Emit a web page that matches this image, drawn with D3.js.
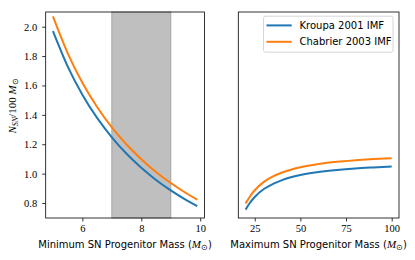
<!DOCTYPE html>
<html>
<head>
<meta charset="utf-8">
<script src="https://cdn.jsdelivr.net/npm/d3@7"></script>
<style>
  body { margin: 0; background: #fff; }
  text { fill: #000; }
</style>
</head>
<body>
<svg id="chart" width="415" height="260"></svg>
<script>
// data
const seriesNames = ['Kroupa 2001 IMF', 'Chabrier 2003 IMF']
const seriesColors = ['#1f77b4', '#ff7f0e']

const minMass = [5, 5.5, 6, 6.5, 7, 7.5, 8, 8.5, 9, 9.5, 9.9]
const kroupaMin = [1.97, 1.730, 1.537, 1.379, 1.247, 1.135, 1.040, 0.957, 0.886, 0.823, 0.778]
const chabrierMin = [2.07, 1.820, 1.618, 1.453, 1.314, 1.198, 1.098, 1.011, 0.936, 0.870, 0.823]

const maxMass = [20, 22, 25, 30, 35, 40, 50, 60, 70, 80, 90, 100]
const kroupaMax = [0.755, 0.795, 0.841, 0.895, 0.930, 0.956, 0.990, 1.011, 1.025, 1.035, 1.042, 1.048]
const chabrierMax = [0.796, 0.838, 0.887, 0.944, 0.981, 1.008, 1.044, 1.066, 1.081, 1.091, 1.099, 1.105]

const shadedSpan = [7, 9]
const leftTicks = [6, 8, 10]
const rightTicks = [25, 50, 75, 100]
const yTicks = [0.8, 1.0, 1.2, 1.4, 1.6, 1.8, 2.0]

const svg = d3.select('#chart')
const plotTop = 12, plotBottom = 218
const serif = "'Liberation Serif', serif"
const sans = "'DejaVu Sans', sans-serif"

const y = d3.scaleLinear().domain([0.698, 2.10]).range([plotBottom, plotTop])

function panel (x0, x1, domain, ticks, xs, ys, label, withY) {
  const x = d3.scaleLinear().domain(domain).range([x0, x1])
  const g = svg.append('g')

  if (withY) {
    g.append('rect')
      .attr('x', x(shadedSpan[0]))
      .attr('y', plotTop)
      .attr('width', x(shadedSpan[1]) - x(shadedSpan[0]))
      .attr('height', plotBottom - plotTop)
      .attr('fill', '#bfbfbf')
      .attr('stroke', '#a3a3a3')
      .attr('stroke-width', 1)
  }

  const line = d3.line()
    .x(d => x(d[0]))
    .y(d => y(d[1]))
    .curve(d3.curveMonotoneX)

  ys.forEach((vals, i) => {
    g.append('path')
      .datum(xs.map((m, j) => [m, vals[j]]))
      .attr('fill', 'none')
      .attr('stroke', seriesColors[i])
      .attr('stroke-width', 2)
      .attr('d', line)
  })

  const xAxis = g.append('g')
    .attr('transform', `translate(0,${plotBottom})`)
    .call(d3.axisBottom(x).tickValues(ticks).tickSize(3.5).tickPadding(3).tickFormat(d3.format('d')))
  xAxis.select('.domain').remove()
  xAxis.selectAll('text').attr('font-family', serif).attr('font-size', 10.5).attr('fill', '#000')
  xAxis.selectAll('line').attr('stroke', '#000').attr('stroke-width', 0.8)

  if (withY) {
    const yAxis = g.append('g')
      .attr('transform', `translate(${x0},0)`)
      .call(d3.axisLeft(y).tickValues(yTicks).tickSize(3.5).tickPadding(5).tickFormat(d3.format('.1f')))
    yAxis.select('.domain').remove()
    yAxis.selectAll('text').attr('font-family', serif).attr('font-size', 10.5).attr('fill', '#000')
    yAxis.selectAll('line').attr('stroke', '#000').attr('stroke-width', 0.8)
  }

  g.append('rect')
    .attr('x', x0).attr('y', plotTop)
    .attr('width', x1 - x0).attr('height', plotBottom - plotTop)
    .attr('fill', 'none').attr('stroke', '#000').attr('stroke-width', 0.8)

  const t = g.append('text')
    .attr('x', (x0 + x1) / 2)
    .attr('y', 248)
    .attr('text-anchor', 'middle')
    .attr('font-family', sans)
    .attr('font-size', 10)
  t.append('tspan').text(label + ' (')
  t.append('tspan').attr('font-family', serif).attr('font-style', 'italic').attr('font-size', 11).text('M')
  t.append('tspan').attr('font-family', serif).attr('font-size', 7.5).attr('dy', 2).text('\u2299')
  t.append('tspan').attr('dy', -2).text(')')
  return x
}

panel(45.7, 204.5, [4.755, 10.145], leftTicks, minMass, [kroupaMin, chabrierMin],
  'Minimum SN Progenitor Mass', true)
panel(238.3, 399, [16, 104], rightTicks, maxMass, [kroupaMax, chabrierMax],
  'Maximum SN Progenitor Mass', false)

// y label
const yl = svg.append('text')
  .attr('transform', `translate(16,106) rotate(-90)`)
  .attr('text-anchor', 'middle')
  .attr('font-family', serif)
  .attr('font-size', 11)
yl.append('tspan').attr('font-style', 'italic').text('N')
yl.append('tspan').attr('font-style', 'italic').attr('font-size', 8).attr('dy', 2).text('SN')
yl.append('tspan').attr('dy', -2).text('/100 ')
yl.append('tspan').attr('font-style', 'italic').text('M')
yl.append('tspan').attr('font-size', 8).attr('dy', 2).text('\u2299')

// legend
const lg = svg.append('g').attr('transform', 'translate(263.5,16.2)')
lg.append('rect')
  .attr('width', 129.5).attr('height', 36)
  .attr('rx', 2)
  .attr('fill', '#fff').attr('fill-opacity', 0.8)
  .attr('stroke', '#cccccc').attr('stroke-width', 0.8)
seriesNames.forEach((name, i) => {
  const yy = 9.2 + i * 16.4
  lg.append('line')
    .attr('x1', 3).attr('x2', 28.2)
    .attr('y1', yy).attr('y2', yy)
    .attr('stroke', seriesColors[i]).attr('stroke-width', 2)
  lg.append('text')
    .attr('x', 36).attr('y', yy + 3.5)
    .attr('font-family', sans).attr('font-size', 10)
    .text(name)
})
</script>
</body>
</html>
